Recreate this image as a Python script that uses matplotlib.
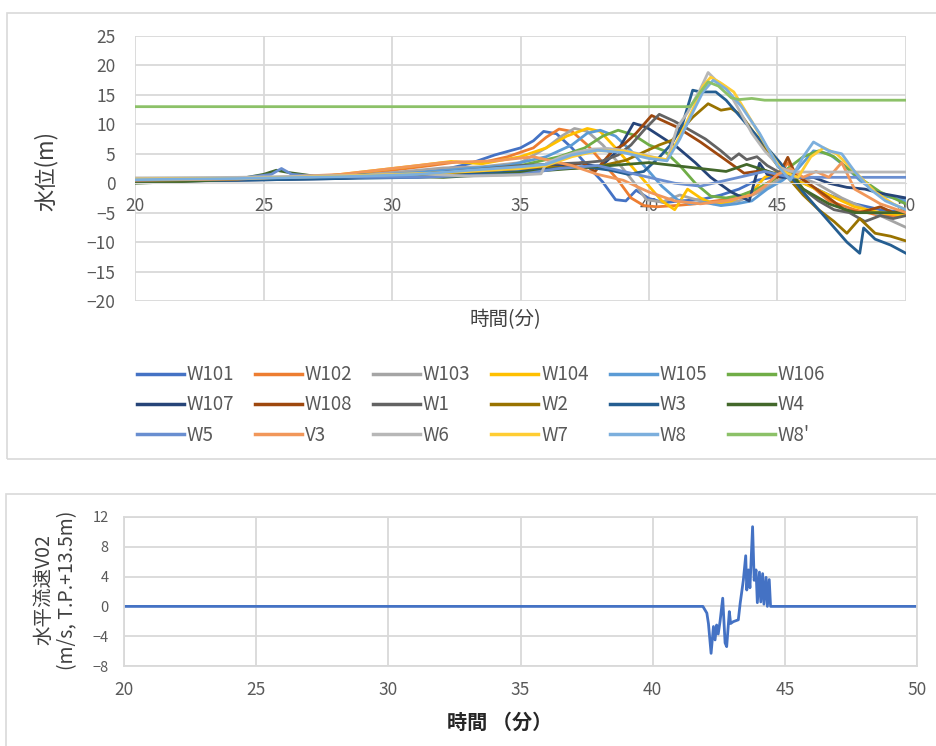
import matplotlib
matplotlib.use("Agg")
import matplotlib.pyplot as plt
from matplotlib.patches import Rectangle

plt.rcParams['font.family'] = ['Noto Sans CJK JP', 'DejaVu Sans']

# ---------------- data (top chart: water level, m) ----------------
SERIES_NAMES = ["W101", "W102", "W103", "W104", "W105", "W106",
                "W107", "W108", "W1", "W2", "W3", "W4",
                "W5", "V3", "W6", "W7", "W8", "W8'"]
SERIES_COLORS = ["#4472C4", "#ED7D31", "#A5A5A5", "#FFC000", "#5B9BD5", "#70AD47",
                 "#264478", "#9E480E", "#636363", "#997300", "#255E91", "#43682B",
                 "#698ED0", "#F1975A", "#B7B7B7", "#FFCD33", "#7CAFDD", "#8CC168"]

T_W101 = [20, 22, 24, 26, 28, 30, 32, 33, 34, 35, 35.5, 35.9, 36.4, 37.0, 37.6, 38.2, 38.7, 39.1, 39.5, 40.0, 40.6, 41.2, 42.0, 42.8, 43.5, 44.2, 45.0, 45.6, 46.3, 47.0, 48.0, 49.0, 50.0]
V_W101 = [0.4, 0.5, 0.7, 0.9, 1.2, 1.6, 2.3, 3.3, 4.8, 6.0, 7.2, 8.8, 8.4, 6.0, 3.0, 0.2, -2.8, -3.0, -1.2, -2.6, -3.3, -3.0, -2.8, -2.0, -1.0, 0.5, 1.2, 0.8, -0.5, -2.0, -3.5, -4.5, -5.0]

T_W102 = [20, 23, 26, 28, 30, 31.5, 32.5, 33.5, 34.5, 35.5, 36.0, 36.5, 37.0, 37.6, 38.2, 38.8, 39.3, 39.8, 40.3, 41.0, 41.8, 42.6, 43.4, 44.2, 45.0, 45.4, 45.7, 46.2, 47.0, 48.0, 49.0, 50.0]
V_W102 = [0.5, 0.6, 0.8, 1.3, 2.2, 3.0, 3.6, 3.5, 4.5, 6.0, 7.8, 9.2, 8.8, 6.5, 3.5, 0.5, -2.5, -3.8, -4.0, -3.8, -3.5, -3.0, -2.5, -1.0, 1.0, 3.5, 1.5, 0.0, -3.0, -4.5, -5.5, -5.5]

T_W103 = [20, 24, 28, 30, 32, 33.5, 35, 36.0, 36.6, 37.1, 37.6, 38.2, 38.8, 39.4, 39.9, 40.5, 41.2, 42.0, 42.8, 43.5, 44.3, 45.0, 45.6, 46.5, 47.5, 48.5, 49.5, 50.0]
V_W103 = [0.6, 0.8, 1.2, 1.8, 2.6, 2.8, 3.5, 6.0, 8.0, 9.3, 8.8, 6.5, 3.5, 0.2, -2.8, -3.2, -2.0, -3.0, -3.5, -3.0, -1.5, 0.5, 1.5, 0.0, -2.5, -4.5, -6.5, -7.5]

T_W104 = [20, 24, 27, 29, 31, 32.3, 33.5, 35, 36.0, 36.8, 37.6, 38.1, 38.7, 39.3, 39.9, 40.5, 41.0, 41.5, 42.0, 42.5, 43.2, 44.0, 44.5, 45.0, 45.5, 46.0, 47.0, 48.0, 49.0, 50.0]
V_W104 = [0.8, 0.6, 1.0, 2.0, 3.0, 3.7, 3.3, 4.5, 6.0, 8.0, 9.3, 8.8, 6.0, 3.0, 0.0, -3.0, -4.5, -1.0, -2.5, -3.5, -3.0, -1.5, 1.0, 2.0, 1.0, 0.0, -2.0, -4.0, -5.0, -5.5]

T_W105 = [20, 24, 28, 31, 33, 34.5, 36, 37.0, 37.6, 38.1, 38.7, 39.3, 39.9, 40.5, 41.1, 41.6, 42.2, 42.8, 43.4, 44.0, 44.6, 45.2, 45.8, 46.4, 47.0, 47.6, 48.2, 49.0, 50.0]
V_W105 = [0.5, 0.7, 1.0, 1.8, 2.5, 3.0, 4.5, 6.5, 8.5, 9.0, 8.0, 5.5, 2.5, -0.5, -2.8, -3.5, -3.3, -3.8, -3.5, -3.0, -1.0, 0.5, 2.5, 5.5, 5.0, 3.0, 0.5, -2.0, -3.0]

T_W106 = [20, 25, 28, 31, 33, 35, 36.5, 37.5, 38.2, 38.8, 39.4, 40.0, 40.6, 41.2, 41.8, 42.4, 43.0, 43.6, 44.2, 44.8, 45.4, 46.0, 46.6, 47.2, 48.0, 49.0, 50.0]
V_W106 = [0.5, 0.8, 1.2, 1.5, 2.0, 3.0, 4.5, 6.0, 8.0, 9.0, 8.2, 6.5, 5.5, 3.0, 0.0, -2.2, -2.5, -2.0, -1.0, 0.5, 2.5, 4.5, 5.5, 4.5, 1.5, -1.5, -3.5]

T_W107 = [20, 24, 28, 31, 32.5, 34, 35, 36, 37.4, 38.1, 38.8, 39.4, 39.9, 40.5, 41.1, 41.8, 42.4, 43.2, 43.9, 44.3, 44.6, 45.2, 46.4, 47.0, 47.7, 48.4, 49.0, 50.0]
V_W107 = [0.3, 0.5, 0.8, 1.5, 2.0, 2.3, 2.5, 2.8, 3.4, 2.7, 5.6, 10.2, 9.5, 7.8, 6.1, 3.5, 1.0, -1.5, -3.0, 3.4, 1.5, 1.0, 1.0, 0.0, -0.7, -1.0, -1.7, -2.5]

T_W108 = [20, 24, 28, 31, 33, 35, 36.5, 37.4, 37.9, 38.6, 39.0, 39.5, 40.1, 41.1, 42.0, 43.0, 43.7, 44.5, 45.0, 45.4, 45.7, 46.2, 47.0, 47.6, 48.2, 49.0, 49.5, 50.0]
V_W108 = [0.4, 0.6, 1.0, 1.5, 2.0, 2.5, 2.5, 3.5, 2.0, 5.6, 6.5, 8.5, 11.5, 9.5, 7.0, 3.9, 1.7, 2.2, 1.0, 4.4, 1.5, 0.0, -2.5, -4.5, -5.0, -4.0, -5.0, -4.5]

T_W1 = [20, 24, 28, 31, 33, 35, 36.5, 37.5, 38.2, 38.8, 39.3, 39.8, 40.4, 41.0, 41.6, 42.2, 42.8, 43.2, 43.5, 43.8, 44.2, 44.6, 45.0, 45.5, 46.0, 46.6, 47.2, 47.8, 48.4, 49.0, 49.5, 50.0]
V_W1 = [0.5, 0.7, 1.1, 1.5, 2.2, 3.0, 3.3, 3.5, 3.8, 4.8, 6.5, 9.0, 11.7, 10.5, 9.0, 7.5, 5.5, 4.0, 5.0, 4.0, 4.5, 3.0, 2.0, 1.0, -1.0, -3.0, -4.5, -5.0, -6.5, -5.5, -6.0, -5.5]

T_W2 = [20, 24, 28, 31, 33, 35, 36, 37, 38.2, 39.1, 39.9, 40.4, 40.9, 41.7, 42.3, 42.8, 43.2, 43.6, 44.5, 45.0, 45.5, 46.0, 46.6, 47.2, 47.7, 48.2, 48.8, 49.4, 50.0]
V_W2 = [0.5, 0.6, 1.0, 1.3, 1.8, 2.5, 2.8, 2.5, 3.0, 3.9, 5.5, 6.5, 7.3, 11.2, 13.5, 12.4, 12.7, 11.5, 6.0, 3.0, 0.5, -2.0, -4.5, -6.5, -8.5, -6.0, -8.5, -9.0, -9.8]

T_W3 = [20, 24, 28, 31, 33, 35, 36.5, 37.5, 38.5, 39.2, 39.8, 40.4, 40.9, 41.3, 41.7, 42.0, 42.6, 43.0, 44.0, 45.1, 46.0, 47.0, 47.7, 48.2, 48.35, 48.8, 49.4, 50.0]
V_W3 = [0.3, 0.5, 0.8, 1.0, 1.5, 2.0, 2.5, 2.8, 2.2, 1.5, 2.0, 4.4, 6.8, 10.0, 15.8, 15.5, 15.5, 14.1, 9.0, 3.5, -1.5, -6.5, -10.0, -11.9, -7.6, -9.5, -10.5, -11.9]

T_W4 = [20, 22, 24, 25.0, 25.5, 26.0, 27, 28.5, 30, 32, 34, 35.5, 37, 38.5, 40, 41, 42, 43, 43.8, 45, 45.5, 46, 47, 48, 49, 50]
V_W4 = [0.0, 0.3, 0.7, 1.5, 2.2, 1.8, 1.2, 1.5, 1.2, 1.0, 1.5, 2.0, 2.5, 3.0, 3.5, 3.0, 2.5, 2.0, 3.2, 1.5, 2.0, -1.0, -3.5, -5.0, -5.0, -5.0]

T_W5 = [20, 24, 25.3, 25.7, 26.1, 27, 29, 31, 33, 35, 36.5, 38, 39.5, 41, 42, 43, 44, 44.5, 45, 45.5, 46, 50]
V_W5 = [0.6, 0.8, 1.5, 2.5, 1.5, 1.2, 1.0, 1.0, 1.3, 1.5, 2.5, 3.0, 1.5, 0.0, -0.5, 0.5, 1.5, 2.0, 1.5, 1.0, 1.0, 1.0]

T_V3 = [20, 24, 28, 30, 32, 34, 35.5, 37, 38, 39, 40, 41, 42, 43, 44, 44.5, 45, 45.5, 46, 46.5, 47, 47.5, 48, 49, 50]
V_V3 = [0.5, 0.7, 1.5, 2.5, 3.5, 3.8, 4.5, 3.0, 1.5, 0.5, -1.5, -3.0, -3.5, -3.0, -2.0, -0.5, 1.5, 2.5, 1.0, 2.0, 1.0, 3.5, -1.0, -3.5, -5.0]

T_W6 = [20, 24, 28, 31, 33, 35, 35.8, 36.0, 36.6, 37.2, 37.8, 38.4, 39.0, 39.6, 40.2, 40.7, 41.1, 41.5, 42.0, 42.3, 42.6, 43.0, 43.5, 44.0, 44.5, 45.1, 45.5, 46.0, 50.0]
V_W6 = [0.9, 1.0, 1.3, 1.6, 1.2, 1.4, 1.6, 3.4, 4.5, 5.3, 5.8, 5.9, 5.6, 5.0, 4.4, 3.9, 9.5, 12.0, 16.0, 18.8, 17.5, 16.3, 12.5, 8.5, 5.5, 2.7, 2.0, 1.9, 1.9]

T_W7 = [20, 24, 28, 31, 33, 35, 36.0, 37.0, 38.0, 39.0, 40.0, 40.7, 41.2, 41.7, 42.1, 42.4, 42.8, 43.3, 44.0, 44.6, 45.2, 45.8, 46.3, 46.8, 47.3, 48.0, 48.8, 49.5, 50.0]
V_W7 = [0.7, 0.8, 1.2, 1.6, 2.0, 2.5, 3.0, 4.5, 5.5, 5.5, 4.5, 4.0, 8.0, 12.5, 16.5, 18.0, 17.0, 15.5, 10.5, 6.0, 2.0, 1.0, 4.5, 6.0, 5.0, 2.0, -1.5, -3.5, -4.5]

T_W8 = [20, 24, 28, 31, 33, 35, 36.0, 37.0, 38.0, 39.0, 40.0, 40.7, 41.2, 41.7, 42.1, 42.5, 43.0, 43.6, 44.3, 45.0, 45.5, 46.0, 46.4, 47.0, 47.5, 48.0, 48.6, 49.2, 50.0]
V_W8 = [0.6, 0.8, 1.1, 1.5, 2.2, 2.8, 3.2, 4.8, 5.6, 5.2, 4.2, 3.8, 7.5, 12.0, 15.5, 17.5, 16.0, 13.0, 8.5, 3.0, 0.5, 4.5, 7.0, 5.5, 5.0, 2.0, -1.0, -3.0, -4.5]

T_W8p = [20, 41.6, 42.0, 42.3, 42.7, 43.2, 43.5, 44.0, 44.5, 50.0]
V_W8p = [13.0, 13.0, 15.5, 17.2, 16.5, 14.5, 14.2, 14.4, 14.1, 14.1]

SERIES_T = [T_W101, T_W102, T_W103, T_W104, T_W105, T_W106, T_W107, T_W108, T_W1,
            T_W2, T_W3, T_W4, T_W5, T_V3, T_W6, T_W7, T_W8, T_W8p]
SERIES_V = [V_W101, V_W102, V_W103, V_W104, V_W105, V_W106, V_W107, V_W108, V_W1,
            V_W2, V_W3, V_W4, V_W5, V_V3, V_W6, V_W7, V_W8, V_W8p]

# ---------------- data (bottom chart: horizontal velocity V02) ----------------
VEL_T = [20, 41.9, 42.05, 42.11, 42.21, 42.30, 42.36, 42.42, 42.48, 42.55, 42.65, 42.74, 42.80,
         42.90, 42.95, 43.05, 43.24, 43.31, 43.43, 43.52, 43.56, 43.62, 43.68, 43.78, 43.84,
         43.91, 43.96, 44.04, 44.09, 44.16, 44.21, 44.29, 44.34, 44.41, 44.46, 50]
VEL_V = [0, 0, -0.9, -2.3, -6.3, -2.7, -4.5, -2.5, -3.7, -2.0, 1.1, -4.9, -5.4,
         -0.7, -2.3, -2.05, -1.8, 0.4, 3.5, 6.8, 2.2, 4.9, 2.5, 10.7, 3.5,
         4.9, 0.5, 4.6, 0.6, 4.4, 0.3, 3.9, 0.0, 3.6, 0.0, 0]

X_TICKS = [20, 25, 30, 35, 40, 45, 50]
TOP_Y_TICKS = [-20, -15, -10, -5, 0, 5, 10, 15, 20, 25]
BOT_Y_TICKS = [-8, -4, 0, 4, 8, 12]

# ---------------- figure ----------------
W, H = 936, 746
fig = plt.figure(figsize=(W / 100, H / 100), dpi=100)
fig.patch.set_facecolor("white")

GRID = "#D9D9D9"
TXT = "#595959"

# chart frames
fig.add_artist(Rectangle((7 / W, 1 - 459 / H), (W + 5 - 7) / W, (459 - 13) / H,
                         transform=fig.transFigure, fill=False, edgecolor=GRID, lw=1.2))
fig.add_artist(Rectangle((6 / W, 1 - (H + 5) / H), (W + 5 - 6) / W, (H + 5 - 494) / H,
                         transform=fig.transFigure, fill=False, edgecolor=GRID, lw=1.2))

# ---- top chart ----
ax1 = fig.add_axes([135 / W, 1 - 301 / H, (906 - 135) / W, (301 - 36) / H])
handles = []
for name, col, t, v in zip(SERIES_NAMES, SERIES_COLORS, SERIES_T, SERIES_V):
    ln, = ax1.plot(t, v, color=col, lw=2.0, solid_joinstyle="round", label=name)
    handles.append(ln)
ax1.set_xlim(20, 50)
ax1.set_ylim(-20, 25)
ax1.set_xticks(X_TICKS)
ax1.set_yticks(TOP_Y_TICKS)
ax1.grid(True, color=GRID, lw=1.3)
ax1.set_axisbelow(True)
for s in ["top", "right", "left"]:
    ax1.spines[s].set_visible(False)
ax1.spines["bottom"].set_position(("data", 0))
ax1.spines["bottom"].set_color(GRID)
ax1.tick_params(axis="both", length=0, colors=TXT, labelsize=12.5)
ax1.tick_params(axis="y", pad=14)
ax1.tick_params(axis="x", pad=10)
ax1.set_ylabel("水位(m)", fontsize=16, color="#404040")
ax1.yaxis.set_label_coords(-0.1, 0.49)
fig.text(505 / W, 1 - 320 / H, "時間(分)", ha="center", va="center", fontsize=14, color="#404040")

# legend (row-wise order like the reference)
order = [r * 6 + c for c in range(6) for r in range(3)]
leg = fig.legend([handles[i] for i in order], [SERIES_NAMES[i] for i in order],
                 ncol=6, loc="center", bbox_to_anchor=(481 / W, 1 - 405 / H),
                 frameon=False, fontsize=13.5, handlelength=2.5, handletextpad=0.15,
                 columnspacing=1.12, labelspacing=0.5, labelcolor=TXT)
for lh in leg.get_lines():
    lh.set_linewidth(2.5)

# ---- bottom chart ----
ax2 = fig.add_axes([124 / W, 1 - 666 / H, (917 - 124) / W, (666 - 517) / H])
ax2.plot(VEL_T, VEL_V, color="#4472C4", lw=2.0)
ax2.set_xlim(20, 50)
ax2.set_ylim(-8, 12)
ax2.set_xticks(X_TICKS)
ax2.set_yticks(BOT_Y_TICKS)
ax2.grid(True, color=GRID, lw=1.3)
ax2.set_axisbelow(True)
for s in ax2.spines.values():
    s.set_color(GRID)
    s.set_linewidth(1.3)
ax2.tick_params(axis="both", length=0, colors=TXT)
ax2.tick_params(axis="y", labelsize=10.5, pad=11)
ax2.tick_params(axis="x", labelsize=12.5, pad=11)
fig.text(56 / W, 1 - 590 / H, "水平流速V02\n(m/s, T.P.+13.5m)", rotation=90,
         ha="center", va="center", fontsize=14, color="#404040",
         multialignment="center", linespacing=1.2)
fig.text(500 / W, 1 - 722 / H, "時間 （分）", ha="center", va="center",
         fontsize=14.5, fontweight="bold", color="#262626")

fig.savefig("out.png", dpi=100, facecolor="white")
